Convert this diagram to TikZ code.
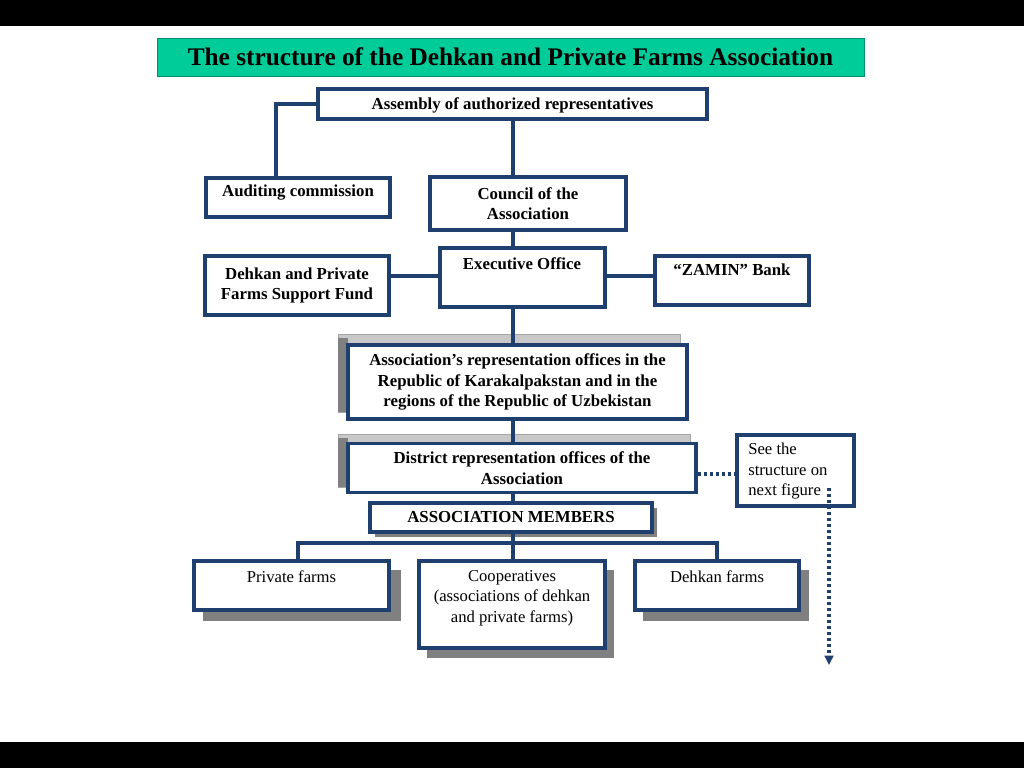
\documentclass[tikz,border=0pt]{standalone}
\usepackage{fontspec}
\setmainfont{Liberation Serif}
\usetikzlibrary{arrows.meta}
\definecolor{navy}{HTML}{1F3F6E}
\definecolor{ttl}{HTML}{00CC99}
\definecolor{shd}{HTML}{808080}
\definecolor{lshd}{HTML}{C8C8C8}
\begin{document}
\begin{tikzpicture}[x=0.75pt,y=-0.75pt,
  box/.style={draw=navy,line width=2.3pt,fill=white,inner sep=2pt,align=center,
     font=\fontsize{12.6}{15.3}\selectfont\bfseries},
  lbl/.style={anchor=north,align=center,inner sep=0pt},
  bf/.style={font=\fontsize{12.6}{15.3}\selectfont\bfseries},
  rg/.style={font=\fontsize{12.5}{15.4}\selectfont},
  conn/.style={draw=navy,line width=2.3pt},
  dots/.style={draw=navy,line width=2.4pt,dash pattern=on 2.25pt off 2.25pt}]
% background
\fill[black] (0,0) rectangle (1024,768);
\fill[white] (0,26) rectangle (1024,742);
\useasboundingbox (0,0) rectangle (1024,768);
% title
\node[fill=ttl,draw=ttl!70!black,line width=0.4pt,minimum width=530.25pt,minimum height=28.5pt,
  font=\fontsize{19}{22}\selectfont\bfseries] (title) at (510.5,57) {The structure of the Dehkan and Private Farms Association};
% grey shadows (back)
\filldraw[fill=lshd,draw=gray!70,line width=0.5pt] (338,334) rectangle (680,412);
\fill[shd] (338,338) rectangle (348,412);
\filldraw[fill=lshd,draw=gray!70,line width=0.5pt] (338,434) rectangle (690,487);
\fill[shd] (338,438) rectangle (348,487);
\fill[shd] (375,508) rectangle (657,537);
\fill[shd] (203,570) rectangle (401,621);
\fill[shd] (427,570) rectangle (614,658);
\fill[shd] (643,570) rectangle (809,621);
% connectors
\coordinate (bus) at (513,543);
\coordinate (audk) at (276,104);
% nodes
\node[box,minimum width=291.75pt,minimum height=22.5pt] (asm) at (512.5,104) {};
\node[lbl,bf] (asmt) at (512.5,97.5) {Assembly of authorized representatives};
\node[box,minimum width=138pt,minimum height=29.25pt] (aud) at (298,197.5) {};
\node[lbl,bf] (audt) at (298,185) {Auditing commission};
\node[box,minimum width=147pt,minimum height=39.75pt] (cou) at (528,203.5) {Council of the\\Association};
\node[box,minimum width=123.75pt,minimum height=44.25pt] (exe) at (522.5,277.5) {};
\node[lbl,bf] (exet) at (522,257) {Executive Office};
\node[box,minimum width=138pt,minimum height=44.25pt] (fund) at (297,285.5) {Dehkan and Private\\Farms Support Fund};
\node[box,minimum width=115.5pt,minimum height=36.75pt] (bank) at (732,280.5) {};
\node[lbl,bf] (bankt) at (732,263.5) {``ZAMIN'' Bank};
\node[box,minimum width=254.25pt,minimum height=55.5pt] (rep) at (517.5,382) {Association’s representation offices in the\\Republic of Karakalpakstan and in the\\regions of the Republic of Uzbekistan};
\node[box,minimum width=261pt,minimum height=36.75pt] (dis) at (522,468) {District representation offices of the\\Association};
\node[box,minimum width=211.5pt,minimum height=21.75pt] (mem) at (511,517.5) {ASSOCIATION MEMBERS};
\node[box,minimum width=146.25pt,minimum height=36.75pt] (pri) at (291.5,585.5) {};
\node[lbl,rg] (prit) at (291.5,570) {Private farms};
\node[box,minimum width=139.5pt,minimum height=65.25pt] (coo) at (512,604.5) {};
\node[lbl,rg] (coot) at (512,570) {Cooperatives\\(associations of dehkan\\and private farms)};
\node[box,minimum width=123pt,minimum height=36.75pt] (deh) at (717,585.5) {};
\node[lbl,rg] (deht) at (717,570) {Dehkan farms};
\node[box,minimum width=87.75pt,minimum height=53.25pt] (see) at (795.5,470.5) {};
\node[anchor=north west,align=left,inner sep=0pt,rg] (seet) at (748,443) {See the\\structure on\\next figure};
% connector drawing
\draw[conn] (asm.west) -- (audk) -- (audk |- aud.north);
\draw[conn] (asm.south -| 513,0) -- (513,0 |- cou.north);
\draw[conn] (cou.south -| 513,0) -- (513,0 |- exe.north);
\draw[conn] (exe.west |- 0,276) -- (fund.east |- 0,276);
\draw[conn] (exe.east |- 0,276) -- (bank.west |- 0,276);
\draw[conn] (exe.south -| 513,0) -- (513,0 |- rep.north);
\draw[conn] (rep.south -| 513,0) -- (513,0 |- dis.north);
\draw[conn] (dis.south -| 513,0) -- (513,0 |- mem.north);
\draw[conn] (mem.south -| 513,0) -- (bus);
\draw[conn] (298,0 |- pri.north) -- (298,543) -- (717,543) -- (717,0 |- deh.north);
\draw[conn] (bus) -- (513,0 |- coo.north);
\draw[dots] (dis.east |- 0,474) -- (see.west |- 0,474);
\coordinate (arrend) at (829,665);
\draw[dots,-{Triangle[length=7pt,width=6.5pt,fill=navy]}] (829,488) -- (arrend);
\end{tikzpicture}
\end{document}
